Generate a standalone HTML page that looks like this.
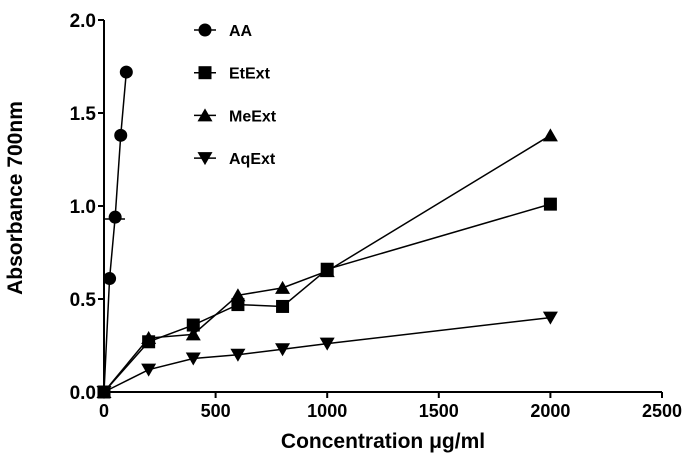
<!DOCTYPE html>
<html><head><meta charset="utf-8"><style>
body{margin:0;background:#fff}
text{font-family:"Liberation Sans",Arial,sans-serif;font-weight:bold;fill:#000}
</style></head><body>
<svg id="chart" width="693" height="462" xmlns="http://www.w3.org/2000/svg"></svg>
<script>
const xTicks=[0,500,1000,1500,2000,2500];
const yTicks=[0.0,0.5,1.0,1.5,2.0];
const aaX=[0,25,50,75,100];
const aaY=[0,0.61,0.94,1.38,1.72];
const extX=[0,200,400,600,800,1000,2000];
const etY=[0,0.27,0.36,0.47,0.46,0.66,1.01];
const meY=[0,0.29,0.31,0.52,0.56,0.65,1.38];
const aqY=[0,0.12,0.18,0.20,0.23,0.26,0.40];
const seriesNames=["AA","EtExt","MeExt","AqExt"];
const NS="http://www.w3.org/2000/svg";
const svg=document.getElementById('chart');
const X0=104,X1=662,Y0=392,Y1=20;
const sx=v=>X0+(v/2500)*(X1-X0);
const sy=v=>Y0-(v/2)*(Y0-Y1);
function mk(tag,attrs,parent){const e=document.createElementNS(NS,tag);for(const k in attrs)e.setAttribute(k,attrs[k]);(parent||svg).appendChild(e);return e;}
let ax=mk('line',{x1:X0,y1:Y1,x2:X0,y2:Y0,stroke:'#000','stroke-width':2});


ax=mk('line',{x1:X0,y1:Y0,x2:X1,y2:Y0,stroke:'#000','stroke-width':2});


xTicks.forEach(t=>{
 mk('line',{x1:sx(t),y1:Y0,x2:sx(t),y2:Y0+6,stroke:'#000','stroke-width':2});
 const tx=mk('text',{x:sx(t),y:Y0+25,'text-anchor':'middle','font-size':18});
 tx.textContent=t;
 
 
});
yTicks.forEach(t=>{
 mk('line',{x1:X0-6,y1:sy(t),x2:X0,y2:sy(t),stroke:'#000','stroke-width':2});
 const tx=mk('text',{x:X0-8,y:sy(t)+7,'text-anchor':'end','font-size':19});
 tx.textContent=t.toFixed(1);
 
 
});
let t=mk('text',{x:383,y:448,'text-anchor':'middle','font-size':21});
t.textContent='Concentration μg/ml';


t=mk('text',{x:0,y:0,'text-anchor':'middle','font-size':21,transform:'translate(22,198) rotate(-90)'});
t.textContent='Absorbance 700nm';


let eb=mk('line',{x1:X0,y1:sy(0.93),x2:X0+21,y2:sy(0.93),stroke:'#000','stroke-width':1.5});


function marker(type,x,y,g){
 if(type===0)return mk('circle',{cx:x,cy:y,r:6.5,fill:'#000'},g);
 if(type===1)return mk('rect',{x:x-6.5,y:y-6.5,width:13,height:13,fill:'#000'},g);
 if(type===2)return mk('polygon',{points:`${x},${y-7} ${x-7.5},${y+6} ${x+7.5},${y+6}`,fill:'#000'},g);
 return mk('polygon',{points:`${x},${y+7} ${x-7.5},${y-6} ${x+7.5},${y-6}`,fill:'#000'},g);
}
const all=[[aaX,aaY],[extX,etY],[extX,meY],[extX,aqY]];
all.forEach((s,i)=>{
 const g=mk('g',{});
 
 
 mk('polyline',{points:s[0].map((x,j)=>sx(x)+','+sy(s[1][j])).join(' '),fill:'none',stroke:'#000','stroke-width':1.5},g);
 s[0].forEach((x,j)=>{const m=marker(i,sx(x),sy(s[1][j]),g);
  
  });
 const ly=30+i*42.7;
 const lg=mk('g',{});
 
 
 mk('line',{x1:194,y1:ly,x2:216,y2:ly,stroke:'#000','stroke-width':1.5},lg);
 marker(i,205,ly,lg);
 const lt=mk('text',{x:229,y:ly+6,'font-size':16},lg);
 lt.textContent=seriesNames[i];
});
</script>
</body></html>
